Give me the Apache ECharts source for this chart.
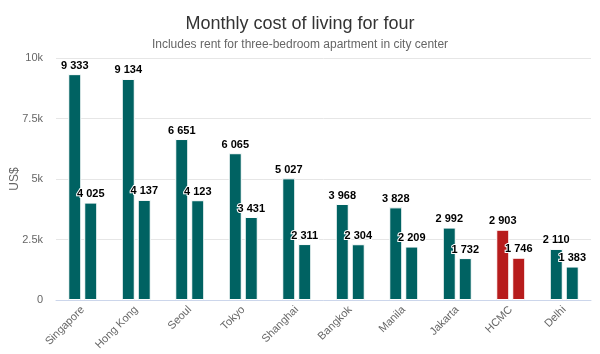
<!DOCTYPE html>
<html>
<head>
<meta charset="utf-8">
<script src="https://cdn.jsdelivr.net/npm/echarts@6/dist/echarts.min.js"></script>
<style>
  html, body { margin: 0; padding: 0; background: #fff; }
  #chart { width: 600px; height: 354px; }
</style>
</head>
<body>
<div id="chart"></div>
<script>
// data
var cities = ['Singapore', 'Hong Kong', 'Seoul', 'Tokyo', 'Shanghai', 'Bangkok', 'Manila', 'Jakarta', 'HCMC', 'Delhi'];
var withRent = [9333, 9134, 6651, 6065, 5027, 3968, 3828, 2992, 2903, 2110];
var withoutRent = [4025, 4137, 4123, 3431, 2311, 2304, 2209, 1732, 1746, 1383];
var yTicks = ['0', '2.5k', '5k', '7.5k', '10k'];
var highlightCity = 'HCMC';

var teal = '#006262';
var red = '#b71c1c';
var font = 'Liberation Sans, Arial, sans-serif';

function fmt(v) {
    return String(v).replace(/\B(?=(\d{3})+(?!\d))/g, ' ');
}

function toItems(arr) {
    return arr.map(function (v, i) {
        return {
            value: v,
            itemStyle: { color: cities[i] === highlightCity ? red : teal }
        };
    });
}

function makeSeries(name, arr) {
    return {
        name: name,
        type: 'bar',
        barWidth: 13,
        barGap: '23%',
        data: toItems(arr),
        itemStyle: { borderColor: '#ffffff', borderWidth: 1 },
        label: {
            show: true,
            position: 'top',
            distance: 3,
            color: '#000',
            fontWeight: 'bold',
            fontSize: 11,
            fontFamily: font,
            textBorderColor: '#fff',
            textBorderWidth: 2,
            formatter: function (p) { return fmt(p.value); }
        }
    };
}

var chart = echarts.init(document.getElementById('chart'));
chart.setOption({
    animation: false,
    title: {
        text: 'Monthly cost of living for four',
        subtext: 'Includes rent for three-bedroom apartment in city center',
        left: 'center',
        top: 10,
        itemGap: 6,
        textStyle: { fontSize: 18, fontWeight: 'normal', color: '#333', fontFamily: font },
        subtextStyle: { fontSize: 12, color: '#666', fontFamily: font }
    },
    grid: { left: 56, right: 9, top: 58, bottom: 54, outerBoundsMode: 'none' },
    xAxis: {
        type: 'category',
        data: cities,
        axisTick: { show: false },
        axisLine: { lineStyle: { color: '#ccd6eb' } },
        axisLabel: {
            rotate: 45,
            color: '#666',
            fontSize: 11,
            margin: 8,
            fontFamily: font
        }
    },
    yAxis: {
        type: 'value',
        min: 0,
        max: 10000,
        interval: 2500,
        name: 'US$',
        nameLocation: 'middle',
        nameGap: 35,
        nameMoveOverlap: false,
        nameTextStyle: { color: '#666', fontSize: 12, fontFamily: font },
        splitLine: { lineStyle: { color: '#e6e6e6' } },
        axisLabel: {
            color: '#666',
            fontSize: 11,
            margin: 13,
            fontFamily: font,
            formatter: function (v) { return yTicks[Math.round(v / 2500)]; }
        }
    },
    series: [
        makeSeries('With rent', withRent),
        makeSeries('Without rent', withoutRent)
    ]
});
</script>
</body>
</html>
